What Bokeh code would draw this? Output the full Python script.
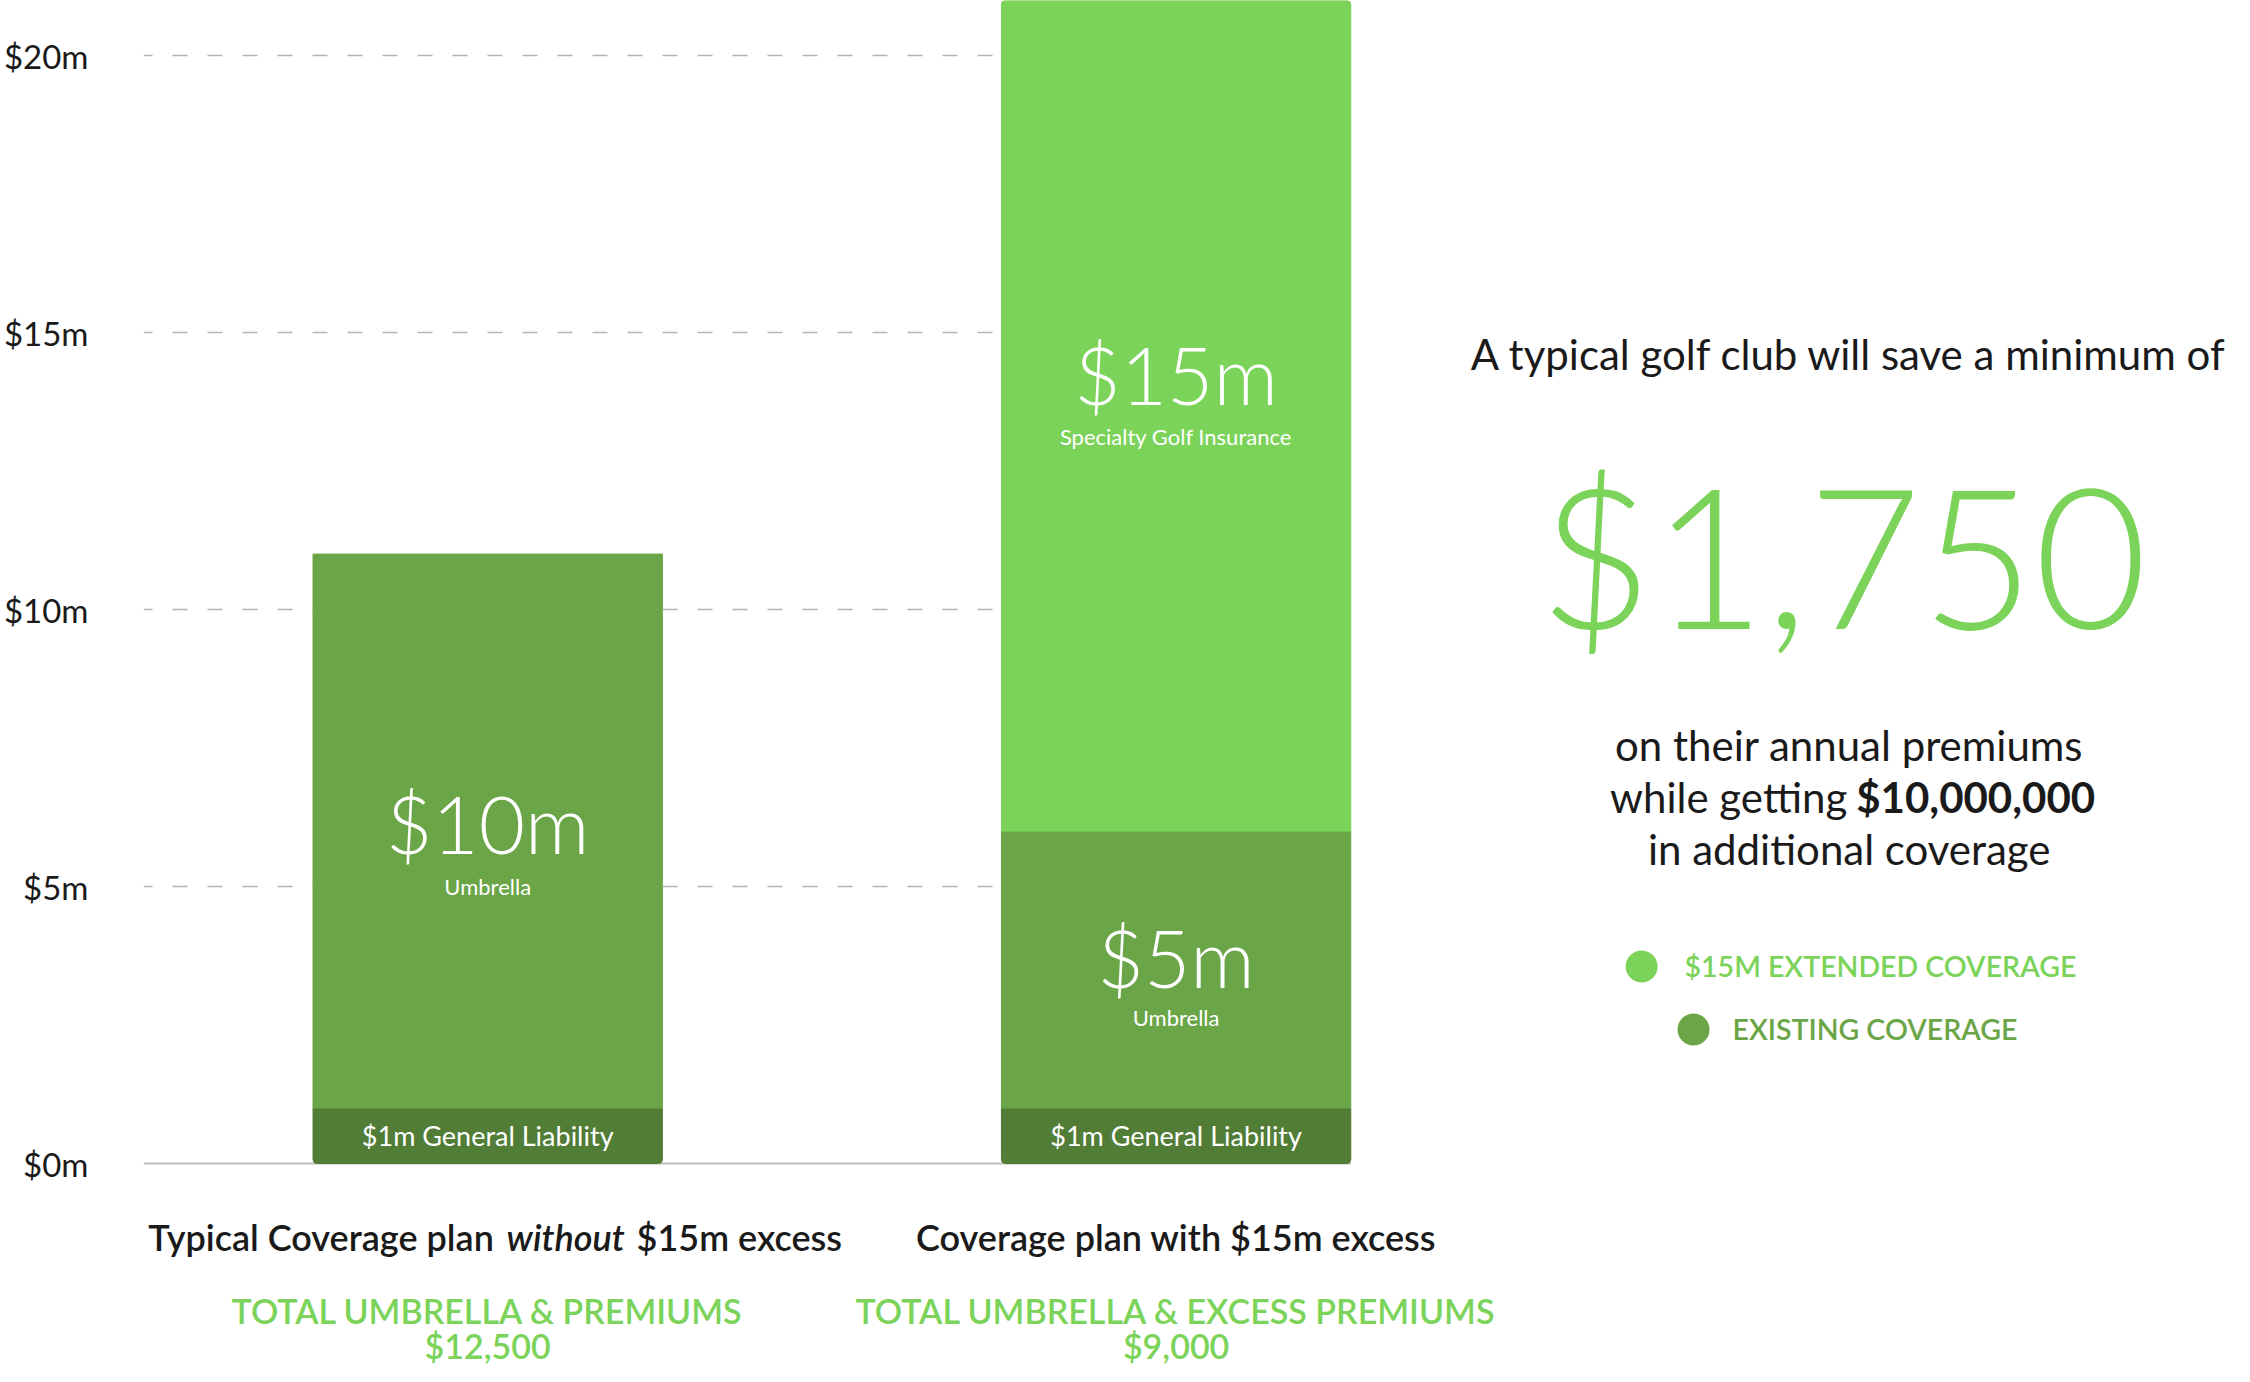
from bokeh.plotting import figure
from bokeh.models import Range1d, FixedTicker, Label
from bokeh.embed import file_html
from bokeh.resources import INLINE

# ---------------- data ----------------
plans = ["Typical Coverage plan without $15m excess", "Coverage plan with $15m excess"]
plan_x = [1, 3]
general_liability = [1, 1]      # $m
umbrella = [10, 5]              # $m
specialty = [0, 15]             # $m
segment_names = ["$1m General Liability", "Umbrella", "Specialty Golf Insurance"]
y_ticks = [0, 5, 10, 15, 20]
y_tick_labels = ["$0m", "$5m", "$10m", "$15m", "$20m"]
total_titles = ["TOTAL UMBRELLA & PREMIUMS", "TOTAL UMBRELLA & EXCESS PREMIUMS"]
total_premiums = ["$12,500", "$9,000"]
savings = "$1,750"
additional_coverage = "$10,000,000"
legend_labels = ["$15M EXTENDED COVERAGE", "EXISTING COVERAGE"]

# ---------------- style ----------------
C_GL = "#517d37"
C_UMB = "#6aa547"
C_SPEC = "#7bd35a"
C_TXT = "#1a1a1a"
FONT = "Lato"
FONT_LIGHT = "Lato Light"
FONT_SEMI = "Lato Semibold"

W, H = 2234, 1366
LEFT = 139                 # frame left edge, px
PX_X = 344.86              # px per x unit
ZERO = 1163                # px of y = 0
PX_Y = 55.4                # px per $1m


def X(px):
    return (px - LEFT) / PX_X


def Y(py):
    return (ZERO - py) / PX_Y


p = figure(width=W, height=H, output_backend="svg", toolbar_location=None,
           x_range=Range1d(0, (W - LEFT) / PX_X), y_range=Range1d(Y(H), Y(0)),
           min_border_left=LEFT, min_border_right=0, min_border_top=0, min_border_bottom=0,
           x_axis_location=None)
p.outline_line_color = None
p.xgrid.visible = False
p.ygrid.visible = False

ax = p.yaxis[0]
ax.ticker = FixedTicker(ticks=y_ticks)
ax.major_label_overrides = dict(zip(y_ticks, y_tick_labels))
ax.axis_line_color = None
ax.major_tick_line_color = None
ax.minor_tick_line_color = None
ax.major_tick_out = 0
ax.major_tick_in = 0
ax.minor_tick_out = 0
ax.major_label_text_font = FONT
ax.major_label_text_font_size = "33px"
ax.major_label_text_color = C_TXT
ax.major_label_standoff = 55

# dashed grid lines up to the right edge of the second bar
grid_y = [t for t in y_ticks if t > 0]
bar_w = 1.015
x_right = max(plan_x) + bar_w / 2
p.segment(x0=[0] * len(grid_y), y0=grid_y, x1=[x_right] * len(grid_y), y1=grid_y,
          line_color="#b3b3b3", line_width=1.5, line_dash="15 20", line_dash_offset=6)
p.segment(x0=[0], y0=[0], x1=[x_right], y1=[0], line_color="#bdbdbd", line_width=2)

# stacked bars
gl_top = general_liability
umb_top = [g + u for g, u in zip(general_liability, umbrella)]
spec_top = [t + s for t, s in zip(umb_top, specialty)]
p.vbar(x=plan_x, width=bar_w, bottom=0, top=gl_top, color=C_GL, border_radius=(0, 0, 4, 4))
p.vbar(x=plan_x, width=bar_w, bottom=gl_top, top=umb_top, color=C_UMB)
sx = [x for x, s in zip(plan_x, specialty) if s > 0]
sb = [b for b, s in zip(umb_top, specialty) if s > 0]
st = [t for t, s in zip(spec_top, specialty) if s > 0]
p.vbar(x=sx, width=bar_w, bottom=sb, top=st, color=C_SPEC, border_radius=(4, 4, 0, 0))


def lab(x, base_py, text, size, color=C_TXT, font=FONT, style="normal", align="center"):
    # base_py: wanted baseline in px from the top
    p.add_layout(Label(x=x, y=Y(base_py - 0.4 * size), text=text, text_font=font,
                       text_font_size=f"{size}px", text_color=color,
                       text_font_style=style, text_align=align,
                       text_baseline="alphabetic"))


# labels inside the bars
umb_value_base = [854, 988]
umb_name_base = [895, 1026]
for i, x in enumerate(plan_x):
    lab(x, 1146, segment_names[0], 27, "white")
    lab(x, umb_value_base[i], f"${umbrella[i]}m", 80, "white", FONT_LIGHT)
    lab(x, umb_name_base[i], segment_names[1], 22, "white")
    if specialty[i] > 0:
        lab(x, 405, f"${specialty[i]}m", 80, "white", FONT_LIGHT)
        lab(x, 445, segment_names[2], 22, "white")

# category captions below the bars
lab(X(490), 1251, "Typical Coverage plan", 36, C_TXT, FONT_SEMI, align="right")
lab(X(562), 1251, "without", 36, C_TXT, FONT_SEMI, style="italic")
lab(X(633), 1251, "$15m excess", 36, C_TXT, FONT_SEMI, align="left")
lab(plan_x[1], 1251, plans[1], 36, C_TXT, FONT_SEMI)

for i, x in enumerate(plan_x):
    lab(x, 1324, total_titles[i], 34, C_SPEC, FONT_SEMI)
    lab(x, 1359, total_premiums[i], 34, C_SPEC, FONT_SEMI)

# right-hand message
cx = X(1848)
lab(cx, 370, "A typical golf club will save a minimum of", 42)
lab(X(1842), 631, savings, 195, C_SPEC, FONT_LIGHT)
lab(cx, 761, "on their annual premiums", 42)
lab(X(1846), 813, "while getting", 42, align="right")
lab(X(1855), 813, additional_coverage, 42, C_TXT, FONT, style="bold", align="left")
lab(cx, 865, "in additional coverage", 42)

# legend
p.scatter(x=[X(1640), X(1692)], y=[Y(966), Y(1029)], size=32, color=[C_SPEC, C_UMB],
          line_color=None)
lab(X(1683), 977, legend_labels[0], 28.5, C_SPEC, FONT_SEMI, align="left")
lab(X(1731), 1040, legend_labels[1], 28.5, C_UMB, FONT_SEMI, align="left")

open("out.html", "w").write(file_html(p, INLINE))
